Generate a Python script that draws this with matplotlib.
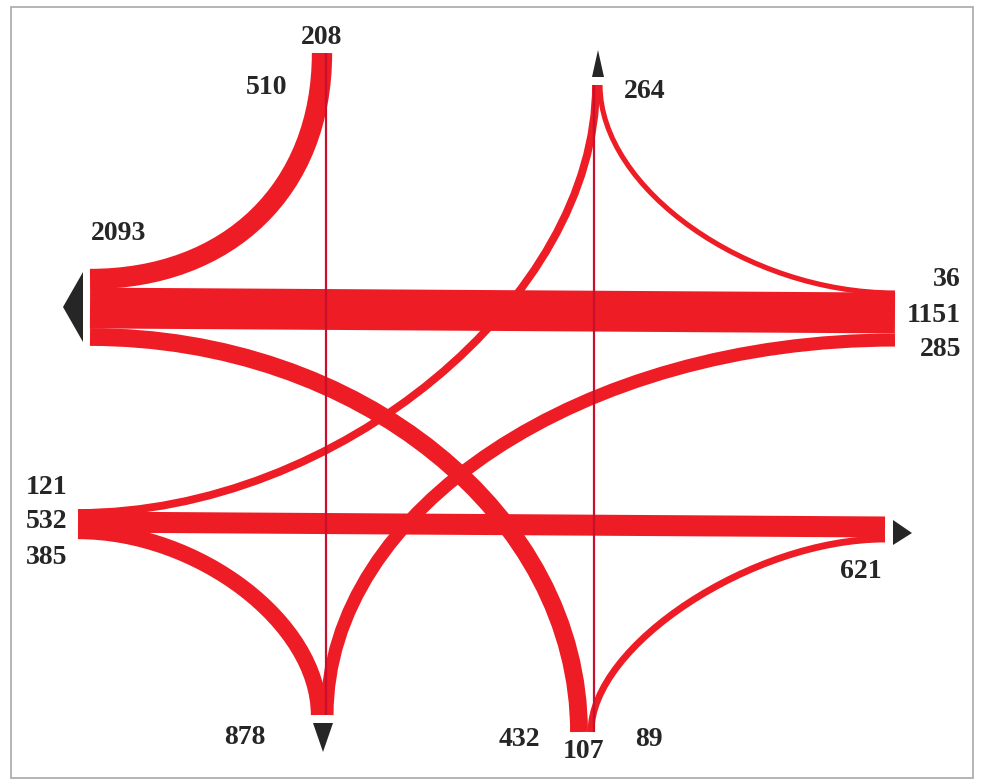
import matplotlib
matplotlib.use("Agg")
import matplotlib.pyplot as plt
from matplotlib.path import Path
from matplotlib.patches import PathPatch, Polygon, Rectangle

# turning volumes (vehicles) for the two junctions
flow_names = ["N-W", "N-S", "E-W", "W-SE", "E-NE", "E-S", "SW-NE", "SW-E", "SW-S", "SE-N", "SE-E"]
flow_values = [510, 208, 1151, 432, 36, 285, 121, 532, 385, 107, 89]

# approach / exit totals printed next to the nodes
node_labels = ["208", "510", "2093", "264", "36", "1151", "285",
               "121", "532", "385", "878", "432", "107", "89", "621"]

RED = "#ee1c25"
DARK_RED = "#c8102e"
INK = "#262626"
DPI = 100

# geometry of every flow in pixel coords: start, start dir, end, end dir, kind, bend
geom = {
    "N-W":   ((322, 53), (0, 1), (90, 279), (-1, 0), "curve", 0.6),
    "N-S":   ((326, 53), (0, 1), (326, 715), (0, 1), "thin", 0),
    "E-W":   ((895, 313), (-1, 0), (90, 308), (-1, 0), "line", 0),
    "W-SE":  ((90, 337), (1, 0), (579, 732), (0, 1), "curve", 0.55),
    "E-NE":  ((895, 293), (-1, 0), (600, 85), (0, -1), "curve", 0.5),
    "E-S":   ((895, 340), (-1, 0), (327, 715), (0, 1), "curve", 0.55),
    "SW-NE": ((78, 513), (1, 0), (596, 85), (0, -1), "curve", 0.5),
    "SW-E":  ((78, 522), (1, 0), (885, 527), (1, 0), "line", 0),
    "SW-S":  ((78, 531), (1, 0), (319, 715), (0, 1), "curve", 0.5),
    "SE-N":  ((594, 732), (0, -1), (594, 85), (0, -1), "thin", 0),
    "SE-E":  ((591, 732), (0, -1), (885, 539), (1, 0), "curve", 0.45),
}

label_pos = [
    (322, 38, "center"), (267, 87, "center"), (119, 233, "center"),
    (645, 91, "center"), (961, 280, "right"), (961, 315, "right"), (961, 350, "right"),
    (47, 487, "center"), (47, 522, "center"), (47, 557, "center"),
    (245, 737, "center"), (519, 740, "center"), (584, 752, "center"),
    (649, 740, "center"), (861, 572, "center"),
]

arrows = [
    [(63, 307), (83, 272), (83, 342)],     # west exit
    [(598, 50), (592, 77), (604, 77)],     # north exit (right junction)
    [(323, 752), (313, 723), (333, 723)],  # south exit (left junction)
    [(912, 533), (893, 520), (893, 545)],  # east exit
]


def px2pt(px):
    return px * 72.0 / DPI


def band_width(v):
    return 4 + 0.032 * v


fig = plt.figure(figsize=(9.82, 7.82), dpi=DPI)
ax = fig.add_axes([0, 0, 1, 1])
ax.set_xlim(0, 982)
ax.set_ylim(782, 0)
ax.axis("off")

for name, val in zip(flow_names, flow_values):
    p0, d0, p3, d1, kind, k = geom[name]
    if kind == "curve":
        # corner where the two tangents meet
        if d0[0] != 0:
            c = (p3[0], p0[1])
        else:
            c = (p0[0], p3[1])
        p1 = (p0[0] + k * (c[0] - p0[0]), p0[1] + k * (c[1] - p0[1]))
        p2 = (p3[0] + k * (c[0] - p3[0]), p3[1] + k * (c[1] - p3[1]))
        path = Path([p0, p1, p2, p3], [Path.MOVETO, Path.CURVE4, Path.CURVE4, Path.CURVE4])
    else:
        path = Path([p0, p3], [Path.MOVETO, Path.LINETO])
    if kind == "thin":
        lw, col, z = px2pt(2.2), DARK_RED, 3
    else:
        lw, col, z = px2pt(band_width(val)), RED, 2
    ax.add_patch(PathPatch(path, fill=False, edgecolor=col, lw=lw,
                           capstyle="butt", joinstyle="round", zorder=z))

for tri in arrows:
    ax.add_patch(Polygon(tri, closed=True, facecolor=INK, edgecolor="none", zorder=4))

for (x, y, ha), txt in zip(label_pos, node_labels):
    ax.text(x, y, txt, ha=ha, va="center", fontsize=20, fontweight="bold",
            family="Liberation Serif", color=INK, zorder=5)

ax.add_patch(Rectangle((11, 7), 962, 771, fill=False, edgecolor="#a8a8a8", lw=1.2, zorder=1))

fig.savefig("out.png", dpi=DPI)
